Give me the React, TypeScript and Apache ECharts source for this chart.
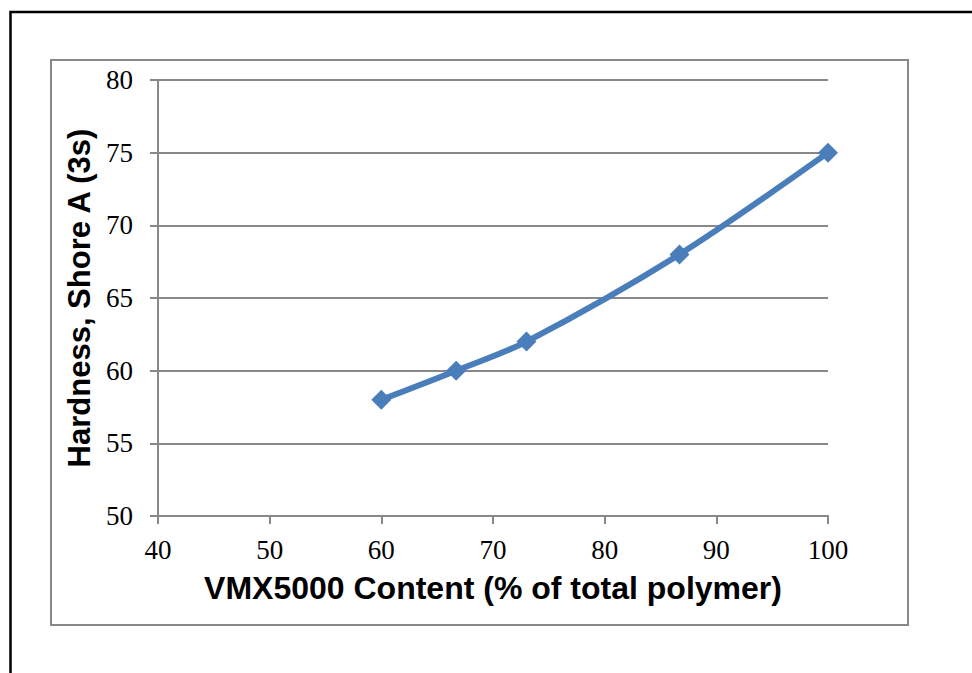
import React, { useEffect, useRef } from "react";
import * as echarts from "echarts";

const xValues = [60, 66.7, 73, 86.7, 100];
const yValues = [58, 60, 62, 68, 75];
const xTitle = "VMX5000 Content (% of total polymer)";
const yTitle = "Hardness, Shore A (3s)";

export default function App() {
  const ref = useRef<HTMLDivElement>(null);
  useEffect(() => {
    if (!ref.current) return;
    const chart = echarts.init(ref.current, undefined, { renderer: "svg" });
    const axisColor = "#888888";
    chart.setOption({
      animation: false,
      backgroundColor: "#ffffff",
      graphic: [
        {
          type: "rect",
          shape: { x: 10.5, y: 12, width: 1000, height: 700 },
          style: { fill: "none", stroke: "#000000", lineWidth: 2.5 },
          silent: true,
        },
        {
          type: "rect",
          shape: { x: 51, y: 60, width: 857, height: 565 },
          style: { fill: "none", stroke: axisColor, lineWidth: 2 },
          silent: true,
        },
      ],
      grid: { left: 158, right: 144, top: 80, bottom: 157 },
      xAxis: {
        type: "value",
        min: 40,
        max: 100,
        interval: 10,
        name: xTitle,
        nameLocation: "middle",
        nameGap: 56,
        nameTextStyle: {
          fontFamily: "Liberation Sans",
          fontWeight: "bold",
          fontSize: 32,
          color: "#000",
        },
        axisLine: { show: true, lineStyle: { color: axisColor, width: 2 } },
        axisTick: { show: true, length: 8, lineStyle: { color: axisColor, width: 2 } },
        splitLine: { show: false },
        axisLabel: {
          fontFamily: "Liberation Serif",
          fontSize: 27,
          color: "#000",
          margin: 20,
        },
      },
      yAxis: {
        type: "value",
        min: 50,
        max: 80,
        interval: 5,
        name: yTitle,
        nameLocation: "middle",
        nameGap: 59,
        nameTextStyle: {
          fontFamily: "Liberation Sans",
          fontWeight: "bold",
          fontSize: 31,
          color: "#000",
        },
        axisLine: { show: true, lineStyle: { color: axisColor, width: 2 } },
        axisTick: { show: true, length: 8, lineStyle: { color: axisColor, width: 2 } },
        splitLine: { show: true, lineStyle: { color: axisColor, width: 2 } },
        axisLabel: {
          fontFamily: "Liberation Serif",
          fontSize: 27,
          color: "#000",
          margin: 25,
        },
      },
      series: [
        {
          type: "line",
          data: xValues.map((x, i) => [x, yValues[i]]),
          smooth: 0.3,
          symbol: "diamond",
          symbolSize: 20,
          lineStyle: { color: "#4a7ebb", width: 6 },
          itemStyle: { color: "#4a7ebb" },
        },
      ],
    });
    return () => chart.dispose();
  }, []);
  return (
    <div
      ref={ref}
      style={{ position: "absolute", left: 0, top: 0, width: 972, height: 673 }}
    />
  );
}
